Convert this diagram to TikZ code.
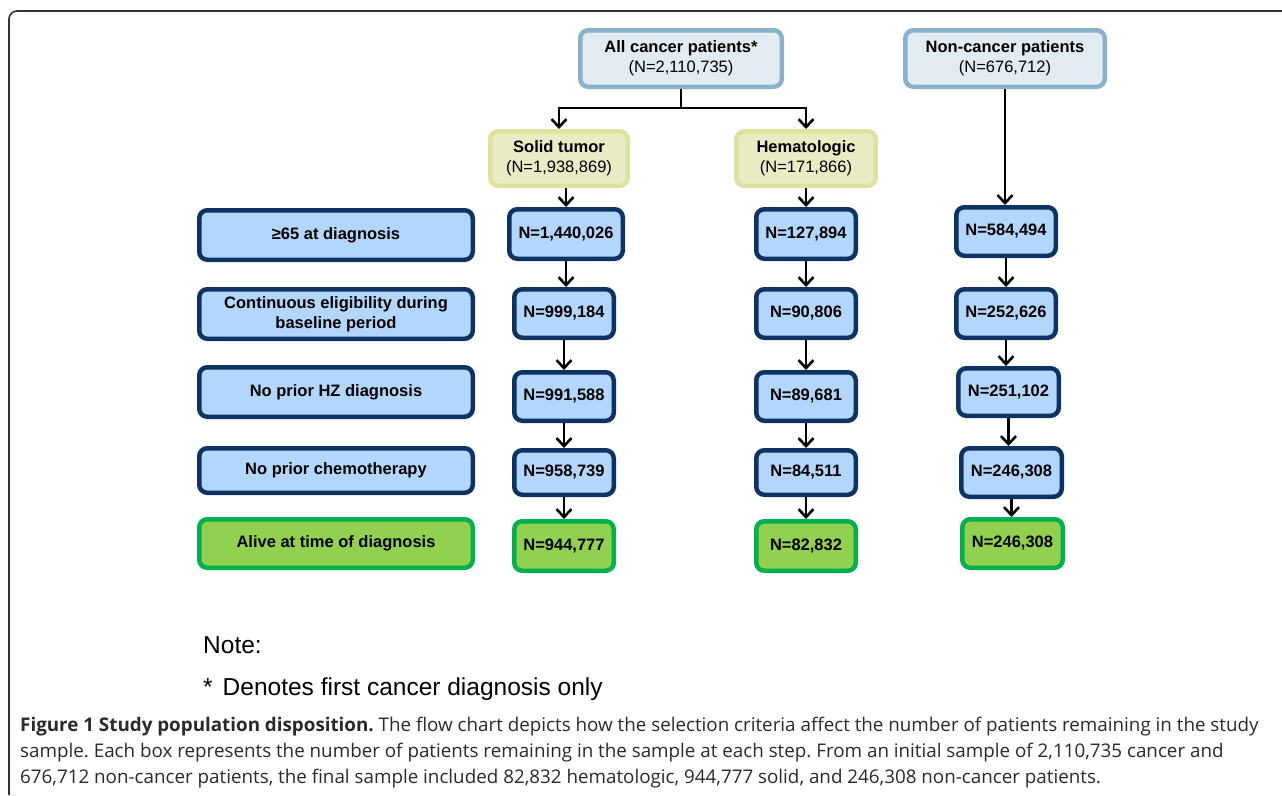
\documentclass[tikz,border=0pt]{standalone}
\usepackage{fontspec}
\setmainfont{Liberation Sans}
\newfontfamily\capfont{Open Sans}
\usetikzlibrary{arrows.meta}
\frenchspacing
\definecolor{navy}{HTML}{0E3262}
\definecolor{lblue}{HTML}{B3D6FC}
\definecolor{dgreen}{HTML}{00B04F}
\definecolor{lgreen}{HTML}{92D050}
\definecolor{topfill}{HTML}{E2EBF1}
\definecolor{topline}{HTML}{8AB1CA}
\definecolor{yfill}{HTML}{EBEBC3}
\definecolor{yline}{HTML}{DDE2A0}
\definecolor{captext}{HTML}{2A2A2A}
\tikzset{
  bx/.style args={#1x#2}{rounded corners=8pt, minimum width=#1pt-4.5pt, minimum height=#2pt-4.5pt, inner sep=0pt, align=center, font=\fontsize{16.5}{20}\selectfont\bfseries},
  bluebox/.style={draw=navy, fill=lblue, line width=4.5pt},
  greenbox/.style={draw=dgreen, fill=lgreen, line width=4.5pt},
  topbox/.style={draw=topline, fill=topfill, line width=4.5pt},
  ybox/.style={draw=yline, fill=yfill, line width=4.5pt},
  arr/.style={line width=2.6pt, -{Straight Barb[length=8pt,width=15pt,line width=2.6pt]}},
  ln/.style={line width=2.6pt}
}
\begin{document}
\begin{tikzpicture}[x=1pt,y=-1pt]
\useasboundingbox (0,0) rectangle (1282,795);
\fill[white] (0,0) rectangle (1282,795);
\draw[line width=1.6pt, black!80, rounded corners=8pt] (1282,11) -- (9,11) -- (9,795);

% top boxes
\node[topbox, bx=206x61] (allc) at (681,58.5) {All cancer patients*\\\mdseries(N=2,110,735)};
\node[topbox, bx=204x61] (nonc) at (1005,58.5) {Non-cancer patients\\\mdseries(N=676,712)};
\node[ybox, bx=142x59] (st) at (559,158.5) {Solid tumor\\\mdseries(N=1,938,869)};
\node[ybox, bx=144x59] (hem) at (806,158.5) {Hematologic\\\mdseries(N=171,866)};

% criteria
\node[bluebox, bx=278x54] (c1) at (336,235) {≥65 at diagnosis};
\node[bluebox, bx=278x54] (c2) at (336,314) {Continuous eligibility during\\baseline period};
\node[bluebox, bx=278x54] (c3) at (336,392) {No prior HZ diagnosis};
\node[bluebox, bx=278x49] (c4) at (336,470.5) {No prior chemotherapy};
\node[greenbox, bx=278x53] (c5) at (336,543.5) {Alive at time of diagnosis};

% solid column
\node[bluebox, bx=118x54] (s1) at (566,234) {N=1,440,026};
\node[bluebox, bx=104x53] (s2) at (564,313.5) {N=999,184};
\node[bluebox, bx=104x53] (s3) at (564,396.5) {N=991,588};
\node[bluebox, bx=104x49] (s4) at (564,472.5) {N=958,739};
\node[greenbox, bx=104x54] (s5) at (564,546) {N=944,777};

% hematologic column
\node[bluebox, bx=104x54] (h1) at (806,234) {N=127,894};
\node[bluebox, bx=104x53] (h2) at (806,313.5) {N=90,806};
\node[bluebox, bx=104x53] (h3) at (806,396.5) {N=89,681};
\node[bluebox, bx=104x49] (h4) at (806,472.5) {N=84,511};
\node[greenbox, bx=104x54] (h5) at (806,546) {N=82,832};

% non-cancer column
\node[bluebox, bx=104x53] (n1) at (1006,231.5) {N=584,494};
\node[bluebox, bx=104x53] (n2) at (1006,313.5) {N=252,626};
\node[bluebox, bx=105x52] (n3) at (1008.5,392) {N=251,102};
\node[bluebox, bx=105x53] (n4) at (1011.5,472.5) {N=246,308};
\node[greenbox, bx=105x53] (n5) at (1012.5,543.5) {N=246,308};

% connectors
\coordinate (split) at (681,108);
\draw[ln] (allc.south) -- (split);
\draw[arr] (split) -| (st.north);
\draw[arr] (split) -| (hem.north);
\draw[arr] (nonc.south) -- (nonc.south |- n1.north);

\draw[arr] (st.south -| s1.north) -- (s1.north);
\draw[arr] (s1.south) -- (s1.south |- s2.north);
\draw[arr] (s2.south) -- (s2.south |- s3.north);
\draw[arr] (s3.south) -- (s3.south |- s4.north);
\draw[arr] (s4.south) -- (s4.south |- s5.north);

\draw[arr] (hem.south) -- (hem.south |- h1.north);
\draw[arr] (h1.south) -- (h1.south |- h2.north);
\draw[arr] (h2.south) -- (h2.south |- h3.north);
\draw[arr] (h3.south) -- (h3.south |- h4.north);
\draw[arr] (h4.south) -- (h4.south |- h5.north);

\draw[arr] (n1.south) -- (n1.south |- n2.north);
\draw[arr] (n2.south) -- (n2.south |- n3.north);
\draw[arr] (n3.south) -- (n3.south |- n4.north);
\draw[arr] (n4.south) -- (n4.south |- n5.north);

% notes
\node[anchor=base west, inner sep=0pt, font=\fontsize{24.5}{28}\selectfont] (note) at (203,653) {Note:};
\node[anchor=base west, inner sep=0pt, font=\fontsize{24.5}{28}\selectfont] (note2) at (203,695) {*\kern10pt Denotes first cancer diagnosis only};

% caption
\begin{scope}[every node/.style={anchor=base west, inner sep=0pt, font=\capfont\fontsize{18.8}{22}\selectfont, text=captext}]
\node (cap1) at (20,731) {\textbf{Figure 1 Study population disposition.} The flow chart depicts how the selection criteria affect the number of patients remaining in the study};
\node (cap2) at (20,757) {sample. Each box represents the number of patients remaining in the sample at each step. From an initial sample of 2,110,735 cancer and};
\node (cap3) at (20,783) {676,712 non-cancer patients, the final sample included 82,832 hematologic, 944,777 solid, and 246,308 non-cancer patients.};
\end{scope}
\end{tikzpicture}
\end{document}
